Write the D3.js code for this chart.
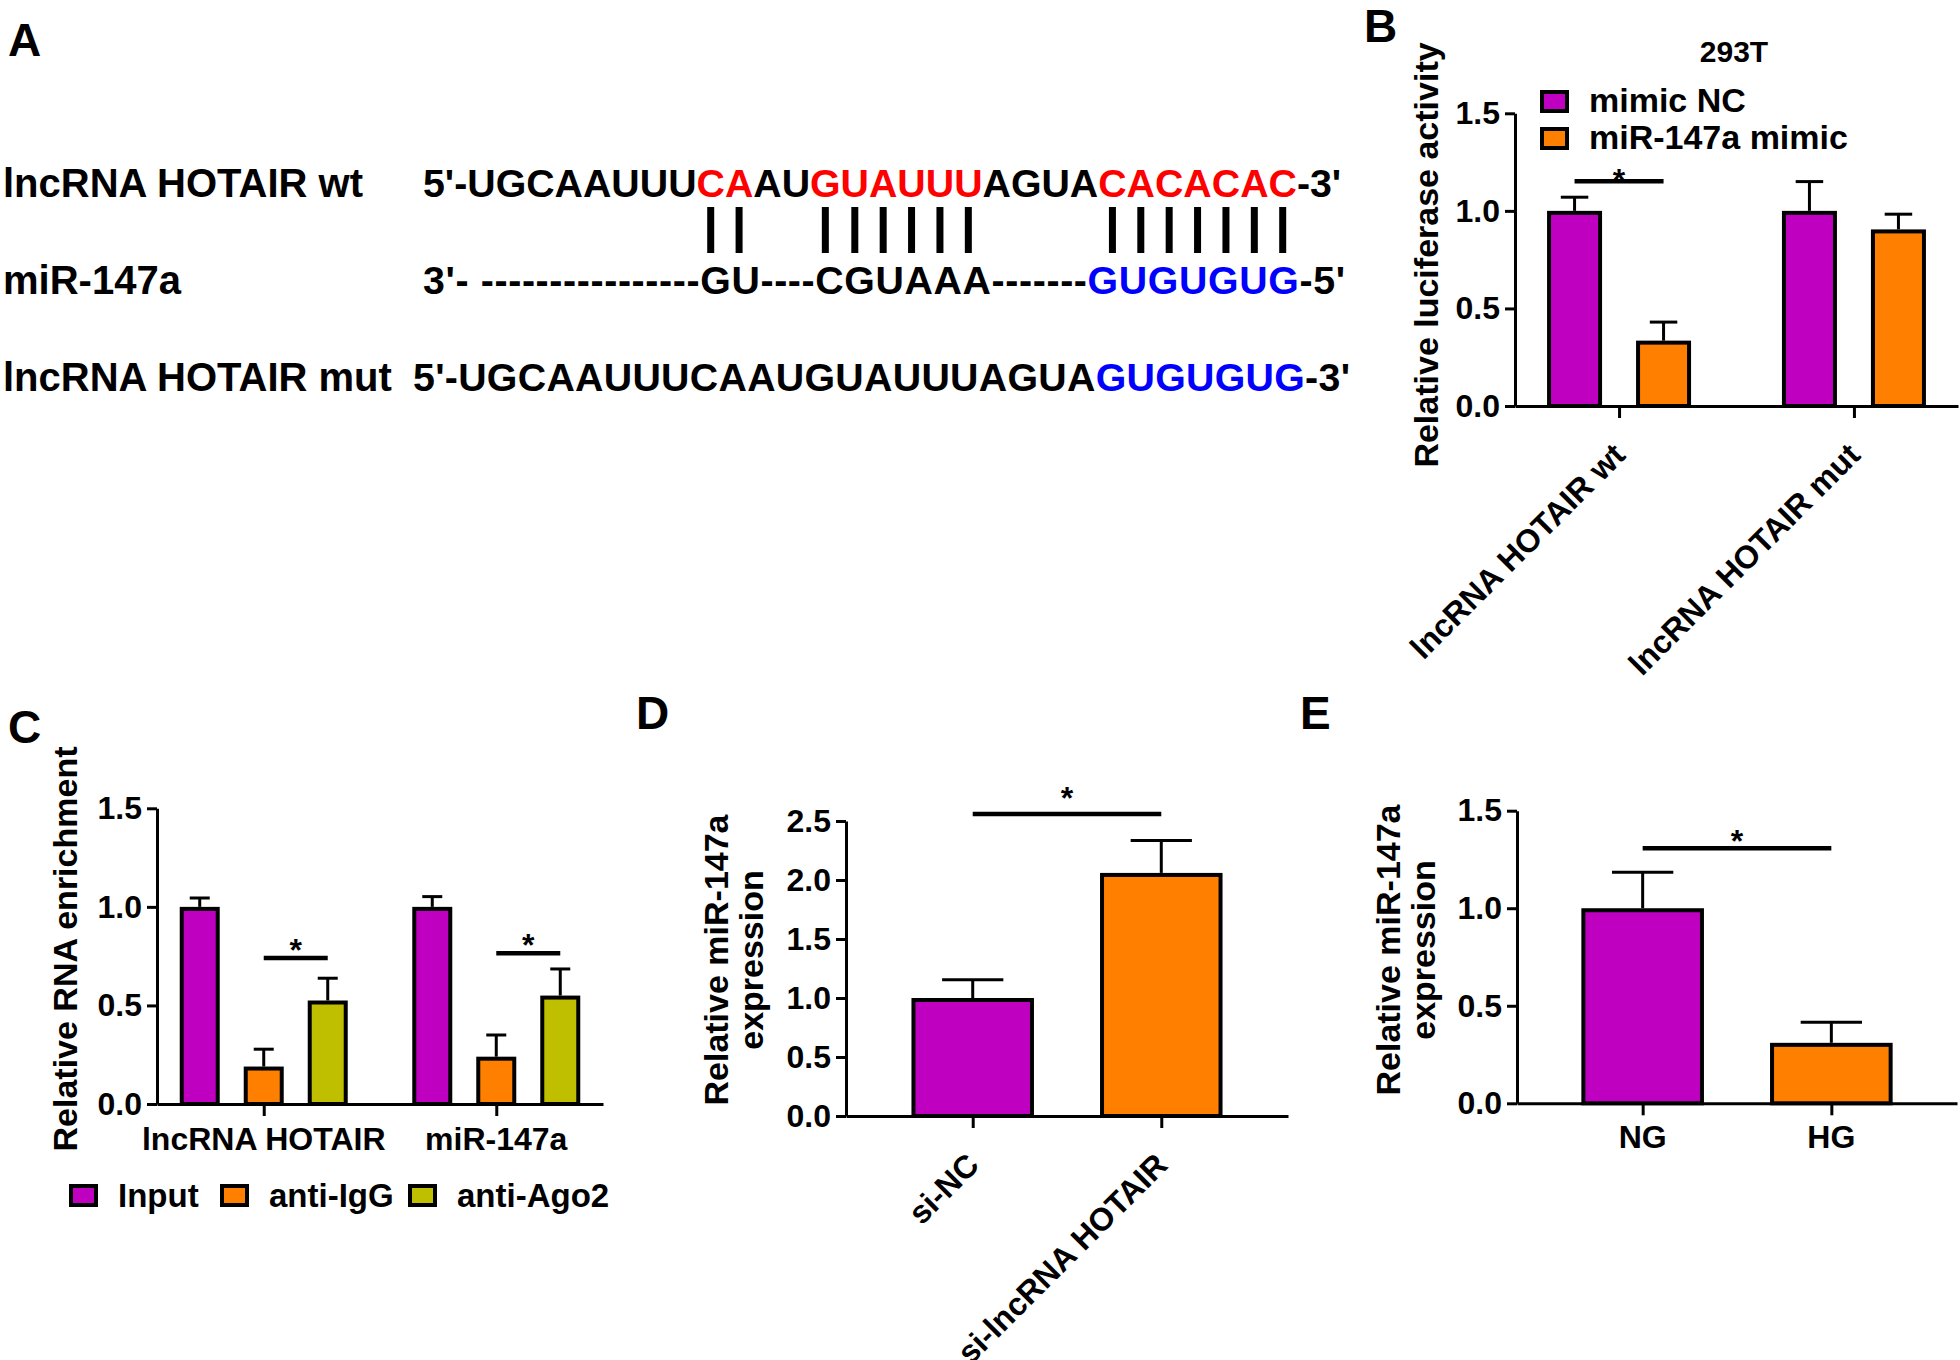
<!DOCTYPE html>
<html><head><meta charset="utf-8">
<script src="https://cdn.jsdelivr.net/npm/d3@7"></script>
<style>
html,body{margin:0;padding:0;background:#fff;}
svg text{font-family:"Liberation Sans", Arial, Helvetica, sans-serif;font-weight:bold;fill:#000;}
</style></head><body>
<svg id="fig" width="1960" height="1360"></svg>
<script>
// ================= DATA =================
const panelLetters = ["A", "B", "C", "D", "E"];

// Panel A – sequence alignment (k = plain, s = seed match, m = mutated)
const seqRowLabels = ["lncRNA HOTAIR wt", "miR-147a", "lncRNA HOTAIR mut"];
const seqWt  = [["5'-UGCAAUUU","k"],["CA","s"],["AU","k"],["GUAUUU","s"],["AGUA","k"],["CACACAC","s"],["-3'","k"]];
const seqMir = [["3'- ----------------GU----CGUAAA-------","k"],["GUGUGUG","m"],["-5'","k"]];
const seqMut = [["5'-UGCAAUUUCAAUGUAUUUAGUA","k"],["GUGUGUG","m"],["-3'","k"]];
const pairedIdx = [11,12, 15,16,17,18,19,20, 25,26,27,28,29,30,31];

// Panel B
const bTitle = "293T";
const bCategories = ["lncRNA HOTAIR wt", "lncRNA HOTAIR mut"];
const bSeries = ["mimic NC", "miR-147a mimic"];
const bMeans  = [[1.00, 0.335], [1.00, 0.905]];
const bErrors = [[0.07, 0.095], [0.15, 0.078]];
const bSig = [{cat: 0, from: 0, to: 1, y: 1.152}];
const bYTicks = [0, 0.5, 1.0, 1.5];
const bYLabel = ["Relative luciferase activity"];

// Panel C
const cCategories = ["lncRNA HOTAIR", "miR-147a"];
const cSeries = ["Input", "anti-IgG", "anti-Ago2"];
const cMeans  = [[1.00, 0.19, 0.525], [1.00, 0.24, 0.55]];
const cErrors = [[0.045, 0.088, 0.113], [0.052, 0.11, 0.135]];
const cSig = [{cat: 0, from: 1, to: 2, y: 0.74}, {cat: 1, from: 1, to: 2, y: 0.765}];
const cYTicks = [0, 0.5, 1.0, 1.5];
const cYLabel = ["Relative RNA enrichment"];

// Panel D
const dCategories = ["si-NC", "si-lncRNA HOTAIR"];
const dMeans  = [1.00, 2.06];
const dErrors = [0.155, 0.275];
const dSig = [{from: 0, to: 1, y: 2.56}];
const dYTicks = [0, 0.5, 1.0, 1.5, 2.0, 2.5];
const dYLabel = ["Relative miR-147a", "expression"];

// Panel E
const eCategories = ["NG", "HG"];
const eMeans  = [1.00, 0.31];
const eErrors = [0.185, 0.105];
const eSig = [{from: 0, to: 1, y: 1.308}];
const eYTicks = [0, 0.5, 1.0, 1.5];
const eYLabel = ["Relative miR-147a", "expression"];

// ================= STYLE =================
const MAGENTA = "#C000C0", ORANGE = "#FF8000", OLIVE = "#BFBF00";
const seqColor = {k: "#000000", s: "#FF0000", m: "#0000FF"};
const TICK_FS = 32, TITLE_FS = 34, LABEL_FS = 32;

const svg = d3.select("#fig");
svg.append("rect").attr("width", 1960).attr("height", 1360).attr("fill", "#fff");

// panel letters
const letterPos = [[8, 56], [1364, 42], [8, 743], [636, 729], [1300, 729]];
panelLetters.forEach((L, i) => {
  svg.append("text").attr("x", letterPos[i][0]).attr("y", letterPos[i][1])
    .attr("font-size", 46).text(L);
});

// ================= PANEL A =================
(function () {
  const g = svg.append("g");
  const baselines = [197, 294, 391];
  const startX = [423, 423, 413];
  const targetW = [null, 922, 937];
  const rows = [seqWt, seqMir, seqMut];
  let wtNode = null;
  seqRowLabels.forEach((lab, i) => {
    g.append("text").attr("x", 3).attr("y", baselines[i]).attr("font-size", 40).text(lab);
    const t = g.append("text").attr("x", startX[i]).attr("y", baselines[i]).attr("font-size", 39.3)
      .attr("xml:space", "preserve");
    rows[i].forEach(([s, c]) => t.append("tspan").style("fill", seqColor[c]).text(s));
    if (targetW[i]) t.attr("textLength", targetW[i]).attr("lengthAdjust", "spacing");
    if (i === 0) wtNode = t.node();
  });
  pairedIdx.forEach(idx => {
    const e = wtNode.getExtentOfChar(idx);
    const cx = e.x + e.width / 2;
    g.append("line").attr("x1", cx).attr("x2", cx).attr("y1", 207).attr("y2", 253)
      .attr("stroke", "#000").attr("stroke-width", 7);
  });
})();

// ================= generic bar panel =================
function barPanel(o) {
  const g = svg.append("g");
  const y = d3.scaleLinear().domain([0, o.yMax]).range(o.yRange);
  const x = d3.scalePoint().domain(o.cats).range(o.xRange).padding(o.pad);
  const inner = d3.scaleBand().domain(o.series).range([-o.half, o.half]).paddingInner(o.innerPad);
  const bw = inner.bandwidth();
  const bars = [];
  o.cats.forEach((c, ci) => o.series.forEach((s, si) => {
    bars.push({ci, si, left: x(c) + inner(s), cx: x(c) + inner(s) + bw / 2,
      v: o.means[ci][si], e: o.errors[ci][si], color: o.colorOf(ci, si)});
  }));
  // error bars
  const eg = g.append("g").attr("stroke", "#000").attr("stroke-width", 3);
  bars.forEach(b => {
    eg.append("line").attr("x1", b.cx).attr("x2", b.cx).attr("y1", y(b.v)).attr("y2", y(b.v + b.e));
    eg.append("line").attr("x1", b.cx - bw / 4).attr("x2", b.cx + bw / 4)
      .attr("y1", y(b.v + b.e)).attr("y2", y(b.v + b.e));
  });
  // bars
  g.append("g").selectAll("rect").data(bars).join("rect")
    .attr("x", b => b.left + 2).attr("width", bw - 4)
    .attr("y", b => y(b.v) + 2).attr("height", b => y(0) - y(b.v) - 2)
    .attr("fill", b => b.color).attr("stroke", "#000").attr("stroke-width", 4);
  // axes
  const ya = g.append("g").attr("transform", `translate(${o.xRange[0]},0)`)
    .call(d3.axisLeft(y).tickValues(o.yTicks).tickFormat(d3.format(".1f"))
      .tickSize(10).tickSizeOuter(0).tickPadding(5));
  const xa = g.append("g").attr("transform", `translate(0,${y(0)})`)
    .call(d3.axisBottom(x).tickSize(12).tickSizeOuter(0).tickFormat(""));
  [ya, xa].forEach(a => {
    a.attr("font-family", null).attr("font-size", TICK_FS);
    a.select(".domain").attr("stroke-width", 3);
    a.selectAll(".tick line").attr("stroke-width", 3);
  });
  ya.selectAll(".tick text").attr("font-size", TICK_FS).style("fill", "#000");
  // significance
  o.sig.forEach(s => {
    let x1, x2;
    if (o.series.length === 1) {
      x1 = x(o.cats[s.from]); x2 = x(o.cats[s.to]);
    } else {
      const c = o.cats[s.cat];
      x1 = x(c) + inner(o.series[s.from]) + bw / 2;
      x2 = x(c) + inner(o.series[s.to]) + bw / 2;
    }
    const yy = y(s.y);
    g.append("line").attr("x1", x1).attr("x2", x2).attr("y1", yy).attr("y2", yy)
      .attr("stroke", "#000").attr("stroke-width", 4.5);
    g.append("text").attr("x", (x1 + x2) / 2).attr("y", yy - o.starGap + 0.55 * 32)
      .attr("text-anchor", "middle").attr("font-size", 32).text("*");
  });
  // y title
  o.yLabel.forEach((line, i) => {
    g.append("text").attr("transform", `translate(${o.yTitleX[i]},${o.yTitleY}) rotate(-90)`)
      .attr("text-anchor", "middle").attr("font-size", TITLE_FS).text(line);
  });
  // x labels
  o.cats.forEach(c => {
    if (o.rotate) {
      g.append("text").attr("transform", `translate(${x(c) + 8},${y(0) + 51}) rotate(-45)`)
        .attr("text-anchor", "end").attr("font-size", LABEL_FS).text(c);
    } else {
      g.append("text").attr("x", x(c)).attr("y", o.xLabelY).attr("text-anchor", "middle")
        .attr("font-size", LABEL_FS).text(c);
    }
  });
  return {g, x, y};
}

// ================= PANEL B =================
const pB = barPanel({
  cats: bCategories, series: bSeries, means: bMeans, errors: bErrors,
  colorOf: (ci, si) => [MAGENTA, ORANGE][si],
  yMax: 1.5, yTicks: bYTicks, yRange: [406, 113.3], xRange: [1515, 1958], pad: 0.443,
  half: 72, innerPad: 0.382, sig: bSig, starGap: 8,
  yLabel: bYLabel, yTitleX: [1438], yTitleY: 255, rotate: true
});
pB.g.append("text").attr("x", 1734).attr("y", 62).attr("text-anchor", "middle")
  .attr("font-size", 30).text(bTitle);
bSeries.forEach((s, i) => {
  pB.g.append("rect").attr("x", 1542).attr("y", 92 + i * 37).attr("width", 25).attr("height", 19)
    .attr("fill", [MAGENTA, ORANGE][i]).attr("stroke", "#000").attr("stroke-width", 4);
  pB.g.append("text").attr("x", 1589).attr("y", 112 + i * 37).attr("font-size", 34).text(s);
});

// ================= PANEL C =================
const pC = barPanel({
  cats: cCategories, series: cSeries, means: cMeans, errors: cErrors,
  colorOf: (ci, si) => [MAGENTA, ORANGE, OLIVE][si],
  yMax: 1.5, yTicks: cYTicks, yRange: [1104, 808.3], xRange: [157, 603], pad: 0.459,
  half: 84, innerPad: 0.375, sig: cSig, starGap: 15,
  yLabel: cYLabel, yTitleX: [77], yTitleY: 949, rotate: false, xLabelY: 1150
});
const cLegendX = [69, 220, 408];
cSeries.forEach((s, i) => {
  pC.g.append("rect").attr("x", cLegendX[i] + 2).attr("y", 1186).attr("width", 25).attr("height", 19)
    .attr("fill", [MAGENTA, ORANGE, OLIVE][i]).attr("stroke", "#000").attr("stroke-width", 4);
  pC.g.append("text").attr("x", cLegendX[i] + 49).attr("y", 1207).attr("font-size", 33).text(s);
});

// ================= PANEL D =================
barPanel({
  cats: dCategories, series: ["value"], means: dMeans.map(v => [v]), errors: dErrors.map(v => [v]),
  colorOf: (ci) => [MAGENTA, ORANGE][ci],
  yMax: 2.5, yTicks: dYTicks, yRange: [1116, 821], xRange: [846, 1288], pad: 0.672,
  half: 61.25, innerPad: 0, sig: dSig, starGap: 23,
  yLabel: dYLabel, yTitleX: [728, 763], yTitleY: 960, rotate: true
});

// ================= PANEL E =================
barPanel({
  cats: eCategories, series: ["value"], means: eMeans.map(v => [v]), errors: eErrors.map(v => [v]),
  colorOf: (ci) => [MAGENTA, ORANGE][ci],
  yMax: 1.5, yTicks: eYTicks, yRange: [1103.3, 810.7], xRange: [1517, 1957], pad: 0.666,
  half: 61.3, innerPad: 0, sig: eSig, starGap: 14,
  yLabel: eYLabel, yTitleX: [1400, 1435], yTitleY: 950, rotate: false, xLabelY: 1148
});
</script>
</body></html>
